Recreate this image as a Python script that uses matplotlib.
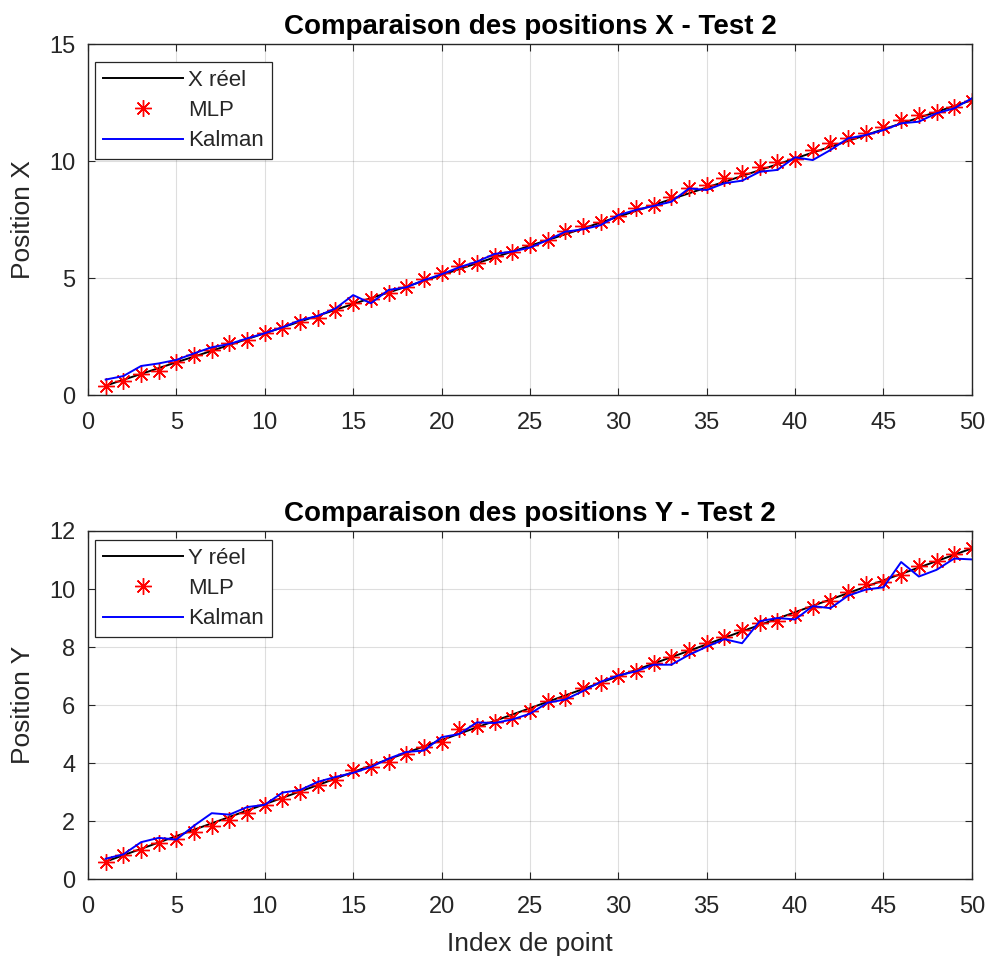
import numpy as np
import matplotlib
matplotlib.use("Agg")
import matplotlib.pyplot as plt

plt.rcParams['font.family'] = ['Liberation Sans', 'DejaVu Sans']

idx = list(range(1, 51))

x_real = [0.40, 0.65, 0.90, 1.15, 1.40, 1.64, 1.89, 2.14, 2.39, 2.64,
          2.89, 3.14, 3.39, 3.64, 3.89, 4.14, 4.38, 4.63, 4.88, 5.13,
          5.38, 5.63, 5.88, 6.13, 6.38, 6.62, 6.87, 7.12, 7.37, 7.62,
          7.87, 8.12, 8.37, 8.62, 8.87, 9.11, 9.36, 9.61, 9.86, 10.11,
          10.36, 10.61, 10.86, 11.11, 11.36, 11.60, 11.85, 12.10, 12.35, 12.60]
x_mlp = [0.40, 0.60, 0.88, 1.03, 1.42, 1.71, 1.92, 2.21, 2.35, 2.64,
         2.85, 3.13, 3.28, 3.63, 3.92, 4.09, 4.34, 4.63, 4.94, 5.20,
         5.51, 5.63, 5.94, 6.13, 6.42, 6.62, 7.02, 7.22, 7.41, 7.65,
         7.98, 8.12, 8.48, 8.83, 8.97, 9.26, 9.47, 9.76, 9.97, 10.07,
         10.47, 10.76, 10.97, 11.18, 11.47, 11.75, 11.97, 12.11, 12.32, 12.58]
x_kalman = [0.66, 0.81, 1.24, 1.35, 1.50, 1.78, 2.04, 2.18, 2.42, 2.64,
            2.89, 3.20, 3.38, 3.70, 4.27, 3.92, 4.49, 4.60, 4.91, 5.16,
            5.46, 5.70, 6.03, 6.13, 6.30, 6.62, 6.98, 7.08, 7.26, 7.69,
            7.91, 8.08, 8.26, 8.83, 8.76, 9.05, 9.16, 9.54, 9.62, 10.16,
            10.04, 10.47, 10.97, 11.11, 11.32, 11.61, 11.68, 12.04, 12.25, 12.68]

y_real = [0.60, 0.82, 1.04, 1.26, 1.48, 1.70, 1.92, 2.14, 2.36, 2.58,
          2.80, 3.02, 3.24, 3.46, 3.69, 3.91, 4.13, 4.35, 4.57, 4.79,
          5.01, 5.23, 5.45, 5.67, 5.89, 6.11, 6.33, 6.55, 6.77, 6.99,
          7.21, 7.43, 7.65, 7.87, 8.09, 8.32, 8.54, 8.76, 8.98, 9.20,
          9.42, 9.64, 9.86, 10.08, 10.30, 10.52, 10.74, 10.96, 11.18, 11.40]
y_mlp = [0.59, 0.82, 1.00, 1.25, 1.39, 1.61, 1.84, 2.05, 2.27, 2.56,
         2.75, 3.01, 3.24, 3.41, 3.77, 3.86, 4.03, 4.32, 4.55, 4.72,
         5.17, 5.28, 5.42, 5.55, 5.80, 6.14, 6.25, 6.57, 6.76, 6.99,
         7.18, 7.44, 7.64, 7.90, 8.13, 8.35, 8.58, 8.84, 8.89, 9.09,
         9.38, 9.60, 9.89, 10.17, 10.23, 10.48, 10.80, 10.97, 11.19, 11.42]
y_kalman = [0.70, 0.85, 1.27, 1.42, 1.36, 1.84, 2.27, 2.22, 2.48, 2.56,
            2.98, 3.07, 3.35, 3.52, 3.66, 3.86, 4.15, 4.38, 4.43, 4.89,
            5.00, 5.40, 5.38, 5.50, 5.70, 6.08, 6.19, 6.48, 6.80, 7.02,
            7.16, 7.39, 7.39, 7.73, 8.01, 8.27, 8.13, 8.89, 9.00, 8.95,
            9.41, 9.34, 9.77, 9.98, 10.06, 10.93, 10.43, 10.66, 11.05, 11.02]

AX_GRAY = (0.15, 0.15, 0.15)


def style_axes(ax):
    ax.set_xlim(0, 50)
    ax.set_xticks(range(0, 51, 5))
    ax.grid(True, color=(0.15, 0.15, 0.15), alpha=0.15, linewidth=0.8)
    ax.set_axisbelow(True)
    for sp in ax.spines.values():
        sp.set_color(AX_GRAY)
        sp.set_linewidth(1.0)
    ax.tick_params(direction='in', length=5, width=0.8, colors=AX_GRAY,
                   labelsize=17, top=True, right=True)
    ax.tick_params(axis='x', pad=12)
    ax.tick_params(axis='y', pad=9)


def draw(ax, real, mlp, kalman, name, title, ylim, yticks, ylabel, leg_top):
    ax.plot(idx, real, color='black', linewidth=1.4, label=name)
    ax.plot(idx, mlp, linestyle='none', marker=(8, 2, 0), markersize=12,
            markeredgewidth=1.0, color='red', label='MLP')
    ax.plot(idx, kalman, color='blue', linewidth=1.4, label='Kalman')
    style_axes(ax)
    ax.set_ylim(*ylim)
    ax.set_yticks(yticks)
    ax.set_title(title, fontsize=20, fontweight='bold', pad=7)
    ax.set_ylabel(ylabel, fontsize=19, color=AX_GRAY, labelpad=10)
    leg = ax.legend(loc='upper left', bbox_to_anchor=(0.008, leg_top),
                    fontsize=16, fancybox=False, edgecolor=AX_GRAY,
                    framealpha=1, borderaxespad=0, handlelength=3.6,
                    handletextpad=0.25, borderpad=0.35, labelspacing=0.42)
    leg.get_frame().set_linewidth(0.9)
    for t in leg.get_texts():
        t.set_color(AX_GRAY)


fig = plt.figure(figsize=(9.92, 9.63), dpi=100)
ax1 = fig.add_axes([0.0887, 0.5898, 0.891, 0.3645])
ax2 = fig.add_axes([0.0887, 0.0872, 0.891, 0.3614])

draw(ax1, x_real, x_mlp, x_kalman, 'X réel', 'Comparaison des positions X - Test 2',
     (0, 15), [0, 5, 10, 15], 'Position X', 0.949)
draw(ax2, y_real, y_mlp, y_kalman, 'Y réel', 'Comparaison des positions Y - Test 2',
     (0, 12), [0, 2, 4, 6, 8, 10, 12], 'Position Y', 0.974)
ax2.set_xlabel('Index de point', fontsize=19, color=AX_GRAY, labelpad=10)

fig.savefig('out.png', dpi=100)
